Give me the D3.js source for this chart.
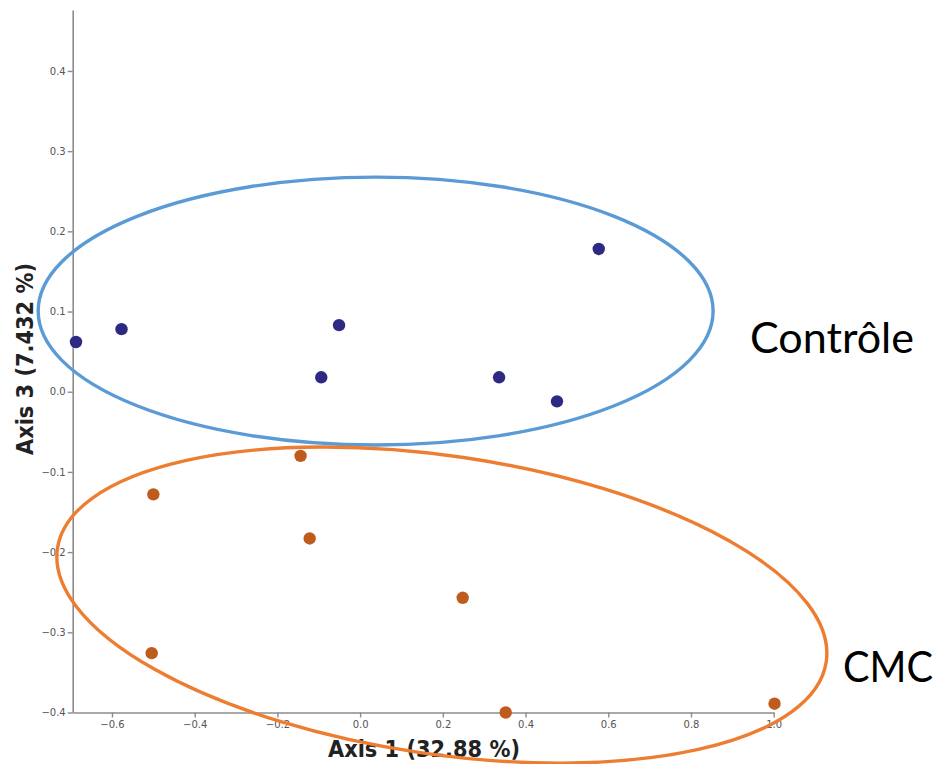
<!DOCTYPE html>
<html>
<head>
<meta charset="utf-8">
<script src="https://cdn.jsdelivr.net/npm/d3@7"></script>
<style>
  html, body { margin: 0; padding: 0; background: #fff; }
  svg { display: block; }
</style>
</head>
<body>
<svg id="chart" width="940" height="764"></svg>
<script>
// ---- data ----
const controleX = [-0.687, -0.577, -0.051, -0.094, 0.577, 0.336, 0.476];
const controleY = [0.062, 0.078, 0.083, 0.018, 0.178, 0.018, -0.012];
const cmcX = [-0.144, -0.500, -0.122, -0.504, 0.248, 0.352, 1.002];
const cmcY = [-0.080, -0.128, -0.183, -0.326, -0.257, -0.400, -0.389];
const xTicks = [-0.6, -0.4, -0.2, 0.0, 0.2, 0.4, 0.6, 0.8, 1.0];
const yTicks = [-0.4, -0.3, -0.2, -0.1, 0.0, 0.1, 0.2, 0.3, 0.4];
const groupNames = ["Contrôle", "CMC"];
const xTitle = "Axis 1 (32.88 %)";
const yTitle = "Axis 3 (7.432 %)";
// group ellipses (data units): center x, center y, half-width (x units), half-height (y units), rotation deg
const ellipseCx = [0.0375, 0.1976];
const ellipseCy = [0.1006, -0.266];
const ellipseRx = [0.816, 0.9395];
const ellipseRy = [0.167, 0.186];
const ellipseRot = [0, 8.38];

// ---- scales ----
const svg = d3.select("#chart");
const x = d3.scaleLinear().domain([-0.695, 1.0]).range([72.7, 773.7]);
const y = d3.scaleLinear().domain([-0.4, 0.476]).range([712.5, 10]);

const axisColor = "#8c8c8c";

// axes
const gx = svg.append("g").attr("transform", `translate(0,${y(-0.4)})`)
  .call(d3.axisBottom(x).tickValues(xTicks).tickSize(5).tickSizeOuter(0).tickPadding(3)
    .tickFormat(d3.format(".1f")));
const gy = svg.append("g").attr("transform", `translate(${x(-0.695)},0)`)
  .call(d3.axisLeft(y).tickValues(yTicks).tickSize(5).tickSizeOuter(0).tickPadding(2)
    .tickFormat(d3.format(".1f")));
[gx, gy].forEach(g => {
  g.select(".domain").attr("stroke", axisColor).attr("stroke-width", 1.6);
  g.selectAll(".tick line").attr("stroke", axisColor).attr("stroke-width", 1.4);
  g.selectAll(".tick text").attr("fill", "#555").attr("font-size", 10)
    .attr("font-family", "DejaVu Sans, sans-serif");
});

// axis titles
svg.append("text")
  .attr("x", 424).attr("y", 757)
  .attr("text-anchor", "middle")
  .attr("font-family", "DejaVu Sans, sans-serif").attr("font-weight", "bold")
  .attr("font-size", 23).attr("fill", "#222")
  .attr("textLength", 192).attr("lengthAdjust", "spacingAndGlyphs")
  .text(xTitle);
svg.append("text")
  .attr("transform", "translate(33,359) rotate(-90)")
  .attr("text-anchor", "middle")
  .attr("font-family", "DejaVu Sans, sans-serif").attr("font-weight", "bold")
  .attr("font-size", 23).attr("fill", "#222")
  .attr("textLength", 192).attr("lengthAdjust", "spacingAndGlyphs")
  .text(yTitle);

// points
const ptsC = controleX.map((v, i) => ({x: v, y: controleY[i]}));
const ptsM = cmcX.map((v, i) => ({x: v, y: cmcY[i]}));
svg.append("g").selectAll("circle").data(ptsC).join("circle")
  .attr("cx", d => x(d.x)).attr("cy", d => y(d.y)).attr("r", 6.2)
  .attr("fill", "#2e2a84");
svg.append("g").selectAll("circle").data(ptsM).join("circle")
  .attr("cx", d => x(d.x)).attr("cy", d => y(d.y)).attr("r", 6.2)
  .attr("fill", "#c05b1e");

// ellipses
const ellColors = ["#5b9bd5", "#ed7d31"];
ellipseCx.forEach((cx, i) => {
  const px = x(cx), py = y(ellipseCy[i]);
  const rx = x(ellipseRx[i]) - x(0);
  const ry = y(0) - y(ellipseRy[i]);
  svg.append("ellipse")
    .attr("cx", px).attr("cy", py).attr("rx", rx).attr("ry", ry)
    .attr("transform", `rotate(${ellipseRot[i]},${px},${py})`)
    .attr("fill", "none").attr("stroke", ellColors[i]).attr("stroke-width", 3.4);
});

// group labels
svg.append("text").attr("x", 750).attr("y", 353)
  .attr("font-family", "Lato, 'Open Sans', sans-serif").attr("font-size", 42)
  .attr("fill", "#000").attr("textLength", 164).attr("lengthAdjust", "spacingAndGlyphs")
  .text(groupNames[0]);
svg.append("text").attr("x", 843).attr("y", 682)
  .attr("font-family", "Lato, 'Open Sans', sans-serif").attr("font-size", 42)
  .attr("fill", "#000").attr("textLength", 90).attr("lengthAdjust", "spacingAndGlyphs")
  .text(groupNames[1]);
</script>
</body>
</html>
